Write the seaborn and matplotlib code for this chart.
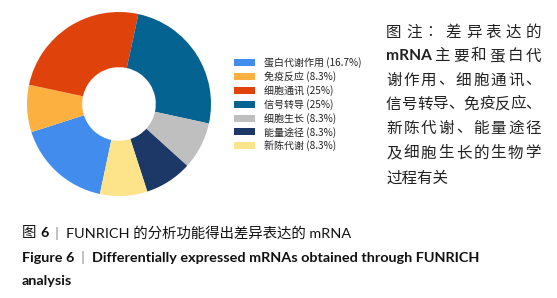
import matplotlib
matplotlib.use("Agg")
import matplotlib.pyplot as plt
from matplotlib.patches import Patch
import seaborn as sns

sns.set_theme(style="white")
plt.rcParams['font.family'] = ['Lato', 'Noto Sans CJK SC', 'DejaVu Sans']

# data
categories = ["蛋白代谢作用", "免疫反应", "细胞通讯", "信号转导", "细胞生长", "能量途径", "新陈代谢"]
percent_labels = ["16.7%", "8.3%", "25%", "25%", "8.3%", "8.3%", "8.3%"]
shares = [16.7, 8.3, 25, 25, 8.3, 8.3, 8.3]
colors = ["#418ced", "#fbb040", "#e0420c", "#056391", "#bfbfbf", "#1b3866", "#fde38a"]

note_lines = [
    ["图", "注", "：", "差", "异", "表", "达", "的"],
    ["mRNA", "主", "要", "和", "蛋", "白", "代"],
    ["谢", "作", "用", "、", "细", "胞", "通", "讯", "、"],
    ["信", "号", "转", "导", "、", "免", "疫", "反", "应", "、"],
    ["新", "陈", "代", "谢", "、", "能", "量", "途", "径"],
    ["及", "细", "胞", "生", "长", "的", "生", "物", "学"],
    ["过程有关"],
]

W, H = 557, 298
fig = plt.figure(figsize=(W / 100, H / 100), dpi=100)
fig.patch.set_facecolor("white")

def fx(px):
    return px / W

def fy(py):
    return 1 - py / H

# donut
cx, cy, r = 119, 104, 92
ax = fig.add_axes([fx(cx - r), fy(cy + r), 2 * r / W, 2 * r / H])
ax.pie(shares, colors=colors, startangle=-102, counterclock=False,
       wedgeprops=dict(width=0.6, linewidth=0), radius=1)
ax.set_xlim(-1, 1)
ax.set_ylim(-1, 1)
ax.set_aspect("equal")
ax.axis("off")

# legend
handles = [Patch(facecolor=c, edgecolor="none") for c in colors]
labels = [f"{c} ({p})" for c, p in zip(categories, percent_labels)]
fig.legend(handles, labels, loc="upper left", bbox_to_anchor=(fx(234), fy(57)),
           frameon=False, handlelength=2.1, handleheight=0.7,
           handletextpad=0.95, labelspacing=0.3, borderpad=0, borderaxespad=0,
           prop={"family": ["Noto Sans CJK SC"], "size": 7.2, "weight": "medium"},
           labelcolor="#222222")

renderer = fig.canvas.get_renderer()

def width_px(t):
    return t.get_window_extent(renderer).width

# right-hand note, justified lines
x0, x1 = 386, 541
ys = [32, 56, 80, 104, 128, 153, 178]
note_color = "#222222"
for tokens, yy in zip(note_lines, ys):
    texts = []
    for tok in tokens:
        fam = ["Lato", "Noto Sans CJK SC"] if tok == "mRNA" else ["Noto Sans CJK SC"]
        wt = "bold" if tok == "mRNA" else "normal"
        texts.append(fig.text(0, fy(yy), tok, fontsize=11.2, color=note_color,
                              va="center", family=fam, weight=wt))
    ws = [width_px(t) for t in texts]
    gap = 0 if len(tokens) == 1 else max((x1 - x0 - sum(ws)) / (len(tokens) - 1), 0)
    xx = x0
    for t, w in zip(texts, ws):
        t.set_x(fx(xx))
        xx += w + gap

# caption
def runs(x, yy, parts):
    for s, kw in parts:
        kw = dict(kw)
        kw.setdefault("color", "#111111")
        t = fig.text(fx(x), fy(yy), s, va="center", **kw)
        x += width_px(t)

cap_fs = 10.4
runs(22, 233, [("图 ", dict(fontsize=cap_fs)),
               ("6", dict(fontsize=cap_fs, weight="bold")),
               ("  |  ", dict(fontsize=cap_fs, color="#888888")),
               ("FUNRICH 的分析功能得出差异表达的 mRNA", dict(fontsize=cap_fs))])
runs(22, 258, [("Figure 6", dict(fontsize=cap_fs, weight="bold")),
               ("  |  ", dict(fontsize=cap_fs, color="#888888")),
               ("Differentially expressed mRNAs obtained through FUNRICH",
                dict(fontsize=cap_fs, weight="bold"))])
runs(22, 281, [("analysis", dict(fontsize=cap_fs, weight="bold"))])

fig.savefig("out.png", dpi=100, facecolor="white")
